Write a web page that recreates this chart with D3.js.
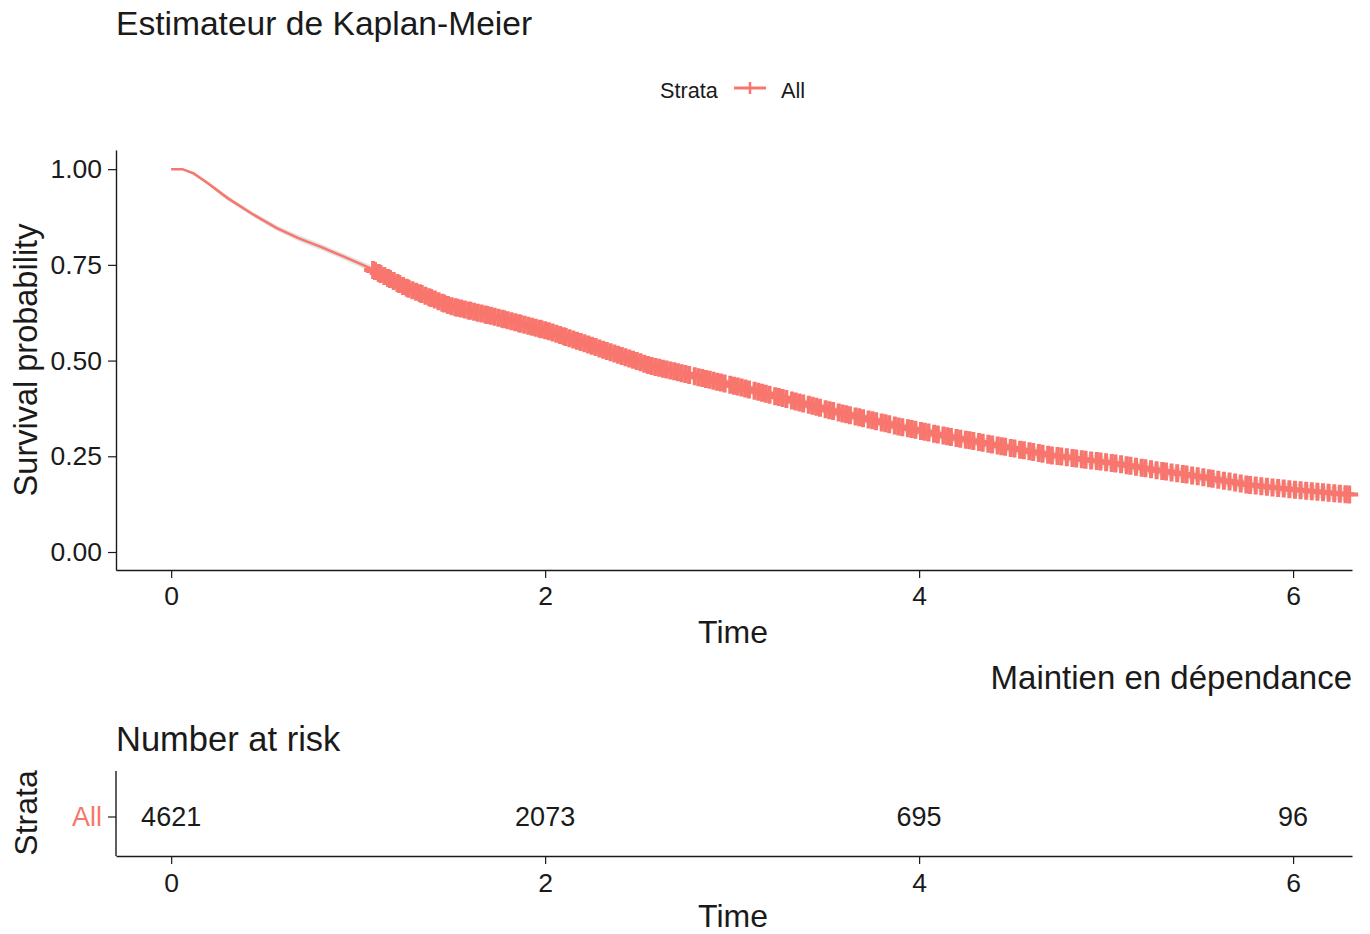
<!DOCTYPE html>
<html>
<head>
<meta charset="utf-8">
<script src="https://cdn.jsdelivr.net/npm/d3@7"></script>
<style>
  body { margin: 0; background: #fff; }
  text { font-family: "Liberation Sans", Arial, sans-serif; }
</style>
</head>
<body>
<div id="chart"></div>
<script>
//DATA--------------------
// Kaplan-Meier points
var kmTime = [0, 0.06, 0.12, 0.20, 0.30, 0.43, 0.565, 0.68, 0.80, 0.93, 1.06, 1.25, 1.49, 1.75, 2.03, 2.56, 3.04, 3.58, 3.90, 4.11, 4.40, 4.70, 5.07, 5.24, 5.50, 5.77, 6.00, 6.30];
var kmSurv = [1.00, 1.00, 0.989, 0.962, 0.925, 0.884, 0.846, 0.820, 0.797, 0.770, 0.742, 0.692, 0.643, 0.612, 0.575, 0.487, 0.431, 0.363, 0.327, 0.306, 0.280, 0.253, 0.230, 0.216, 0.197, 0.175, 0.163, 0.150];
var kmLower = [1.00, 0.998, 0.985, 0.957, 0.919, 0.878, 0.839, 0.812, 0.789, 0.762, 0.733, 0.683, 0.634, 0.602, 0.565, 0.476, 0.419, 0.350, 0.314, 0.292, 0.266, 0.239, 0.215, 0.201, 0.182, 0.160, 0.147, 0.133];
var kmUpper = [1.00, 1.00, 0.993, 0.967, 0.931, 0.890, 0.853, 0.828, 0.805, 0.778, 0.751, 0.701, 0.652, 0.622, 0.585, 0.498, 0.443, 0.376, 0.340, 0.320, 0.294, 0.267, 0.245, 0.231, 0.212, 0.190, 0.179, 0.167];

// censoring times (dense band from ~1.08 to the end)
var censorTimes = [
  1.08,1.09,1.11,1.12,1.14,1.16,1.17,1.19,1.21,1.22,1.24,1.26,1.27,1.29,1.31,1.33,1.34,1.36,1.38,1.39,
  1.41,1.43,1.45,1.46,1.48,1.50,1.52,1.53,1.55,1.57,1.59,1.60,1.62,1.64,1.66,1.68,1.69,1.71,1.73,1.75,
  1.77,1.78,1.80,1.82,1.84,1.86,1.87,1.89,1.91,1.93,1.95,1.97,1.98,2.00,2.02,2.04,2.06,2.08,2.10,2.11,
  2.13,2.15,2.17,2.19,2.21,2.23,2.25,2.27,2.29,2.31,2.33,2.35,2.37,2.39,2.41,2.43,2.45,2.47,2.49,2.51,
  2.53,2.55,2.57,2.59,2.61,2.63,2.65,2.67,2.69,2.71,2.73,2.75,2.77,2.80,2.82,2.84,2.86,2.88,2.90,2.92,
  2.94,2.96,2.99,3.01,3.03,3.05,3.07,3.09,3.12,3.14,3.16,3.18,3.20,3.23,3.25,3.27,3.29,3.32,3.34,3.36,
  3.38,3.41,3.43,3.45,3.47,3.50,3.52,3.54,3.57,3.59,3.61,3.63,3.66,3.68,3.70,3.73,3.75,3.77,3.80,3.82,
  3.84,3.87,3.89,3.91,3.94,3.96,3.98,4.01,4.03,4.05,4.08,4.10,4.13,4.15,4.17,4.20,4.22,4.25,4.27,4.29,
  4.32,4.34,4.37,4.39,4.42,4.44,4.46,4.49,4.51,4.54,4.56,4.59,4.61,4.64,4.66,4.69,4.71,4.74,4.76,4.79,
  4.82,4.84,4.87,4.89,4.92,4.95,4.97,5.00,5.03,5.05,5.08,5.11,5.13,5.16,5.19,5.21,5.24,5.27,5.30,5.32,
  5.35,5.38,5.41,5.43,5.46,5.49,5.52,5.55,5.57,5.60,5.63,5.66,5.69,5.72,5.75,5.77,5.80,5.83,5.86,5.89,
  5.92,5.95,5.98,6.01,6.04,6.07,6.10,6.13,6.16,6.19,6.22,6.25,6.28,6.30
];

// number at risk table
var riskTimes = [0, 2, 4, 6];
var riskCounts = [4621, 2073, 695, 96];
var strata = ["All"];

var xTicks = [0, 2, 4, 6];
var yTicks = [0, 0.25, 0.5, 0.75, 1];

//SETUP--------------------
var svgWidth = 1370;
var svgHeight = 934;
var red = "#F8766D";
var ink = "#1a1a1a";

var svg = d3.select("#chart")
    .append("svg")
    .attr("width", svgWidth)
    .attr("height", svgHeight);

svg.append("rect").attr("width", svgWidth).attr("height", svgHeight).attr("fill", "#fff");

// main panel scales
var xScale = d3.scaleLinear().domain([-0.295, 6.315]).range([116, 1352]);
var yScale = d3.scaleLinear().domain([-0.047, 1.05]).range([570, 150]);

function styleAxis(g) {
    g.select(".domain").attr("stroke", ink).attr("stroke-width", 1.4);
    g.selectAll(".tick line").attr("stroke", ink).attr("stroke-width", 1.2);
    g.selectAll(".tick text").attr("fill", ink).attr("font-size", 26.5)
        .attr("font-family", "Liberation Sans, Arial, sans-serif");
}

//TITLES--------------------
svg.append("text")
    .attr("x", 116).attr("y", 35)
    .attr("font-size", 33.6).attr("fill", ink)
    .text("Estimateur de Kaplan-Meier");

// legend
var legend = svg.append("g");
legend.append("text").attr("x", 660).attr("y", 98)
    .attr("font-size", 21.7).attr("fill", ink).text("Strata");
legend.append("line").attr("x1", 734).attr("x2", 766).attr("y1", 88).attr("y2", 88)
    .attr("stroke", red).attr("stroke-width", 3);
legend.append("line").attr("x1", 750).attr("x2", 750).attr("y1", 82).attr("y2", 94)
    .attr("stroke", red).attr("stroke-width", 2.5);
legend.append("text").attr("x", 781).attr("y", 98)
    .attr("font-size", 21.7).attr("fill", ink).text("All");

//MAIN PLOT--------------------
var plot = svg.append("g");

// confidence band
var kmData = kmTime.map((t, i) => ({t: t, s: kmSurv[i], lo: kmLower[i], hi: kmUpper[i]}));
plot.append("path")
    .datum(kmData)
    .attr("d", d3.area().x(d => xScale(d.t)).y0(d => yScale(d.lo)).y1(d => yScale(d.hi)))
    .attr("fill", "#dcdcdc")
    .attr("opacity", 0.8);

// survival curve
plot.append("path")
    .datum(kmData)
    .attr("d", d3.line().x(d => xScale(d.t)).y(d => yScale(d.s)))
    .attr("fill", "none")
    .attr("stroke", red)
    .attr("stroke-width", 2.5);

// survival value at a given time along the read curve (for placing censor marks)
function survAt(t) {
    var i = d3.bisectRight(kmTime, t);
    if (i <= 0) return kmSurv[0];
    if (i >= kmTime.length) return kmSurv[kmSurv.length - 1];
    var t0 = kmTime[i - 1], t1 = kmTime[i];
    var f = (t - t0) / (t1 - t0);
    return kmSurv[i - 1] + f * (kmSurv[i] - kmSurv[i - 1]);
}

// censor "+" marks
var half = 9;
var marks = plot.append("g")
    .attr("stroke", red)
    .attr("stroke-width", 4);
marks.selectAll("path")
    .data(censorTimes)
    .enter()
    .append("path")
    .attr("d", d => {
        var cx = xScale(d), cy = yScale(survAt(d));
        return `M${cx - half},${cy}H${cx + half}M${cx},${cy - half}V${cy + half}`;
    });

// axes
var bottomAxis = d3.axisBottom(xScale).tickValues(xTicks).tickSize(8).tickSizeOuter(0).tickPadding(8).tickFormat(d3.format("d"));
var leftAxis = d3.axisLeft(yScale).tickValues(yTicks).tickSize(8).tickSizeOuter(0).tickPadding(6).tickFormat(d3.format(".2f"));

svg.append("g").attr("transform", "translate(0,570)").call(bottomAxis).call(styleAxis);
svg.append("g").attr("transform", "translate(116,0)").call(leftAxis).call(styleAxis);

svg.append("text")
    .attr("x", 733).attr("y", 643)
    .attr("text-anchor", "middle")
    .attr("font-size", 32).attr("fill", ink)
    .text("Time");

svg.append("text")
    .attr("transform", "translate(37,360) rotate(-90)")
    .attr("text-anchor", "middle")
    .attr("font-size", 32.5).attr("fill", ink)
    .text("Survival probability");

svg.append("text")
    .attr("x", 1352).attr("y", 689)
    .attr("text-anchor", "end")
    .attr("font-size", 33).attr("fill", ink)
    .text("Maintien en dépendance");

//RISK TABLE--------------------
svg.append("text")
    .attr("x", 116).attr("y", 751)
    .attr("font-size", 34.5).attr("fill", ink)
    .text("Number at risk");

var yRisk = d3.scaleBand().domain(strata).range([778, 856]);

var riskGroup = svg.append("g");
riskGroup.selectAll("text")
    .data(riskTimes)
    .enter()
    .append("text")
    .attr("x", d => xScale(d))
    .attr("y", yRisk("All") + yRisk.bandwidth() / 2)
    .attr("dy", "0.35em")
    .attr("text-anchor", "middle")
    .attr("font-size", 27).attr("fill", ink)
    .text((d, i) => riskCounts[i]);

var riskBottom = d3.axisBottom(xScale).tickValues(xTicks).tickSize(8).tickSizeOuter(0).tickPadding(9).tickFormat(d3.format("d"));
var riskLeft = d3.axisLeft(yRisk).tickSize(8).tickSizeOuter(0).tickPadding(6);

svg.append("g").attr("transform", "translate(0,856)").call(riskBottom).call(styleAxis);
var rl = svg.append("g").attr("transform", "translate(116,0)").call(riskLeft).call(styleAxis);
rl.select(".domain").attr("d", "M0,771V856");
rl.selectAll(".tick text").attr("fill", red).attr("font-size", 27);

svg.append("text")
    .attr("x", 733).attr("y", 927)
    .attr("text-anchor", "middle")
    .attr("font-size", 32).attr("fill", ink)
    .text("Time");

svg.append("text")
    .attr("transform", "translate(37,813) rotate(-90)")
    .attr("text-anchor", "middle")
    .attr("font-size", 32).attr("fill", ink)
    .text("Strata");
</script>
</body>
</html>
